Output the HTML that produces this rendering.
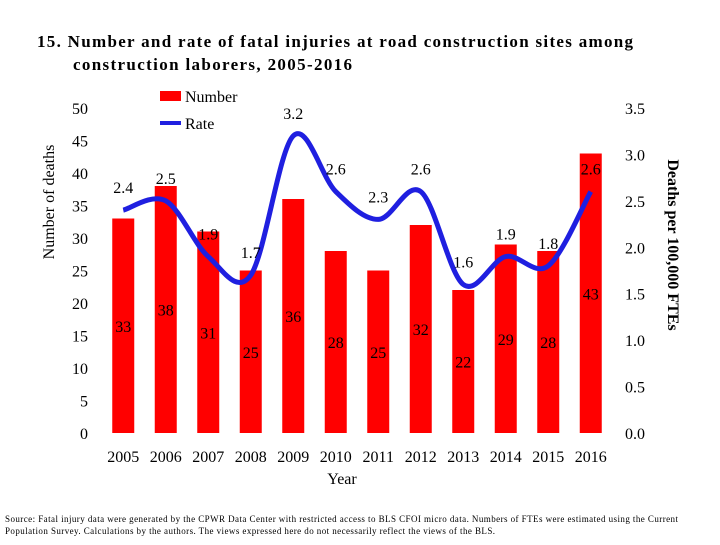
<!DOCTYPE html>
<html><head><meta charset="utf-8"><style>
body{margin:0;background:#fff;}
svg text{font-family:"Liberation Serif",serif;}
</style></head><body>
<svg id="c" width="720" height="540" xmlns="http://www.w3.org/2000/svg">
<text x="37" y="47" font-size="17" font-weight="bold" textLength="596" lengthAdjust="spacing">15. Number and rate of fatal injuries at road construction sites among</text>
<text x="73" y="70" font-size="17" font-weight="bold" textLength="279" lengthAdjust="spacing">construction laborers, 2005-2016</text>
<rect x="160" y="91" width="21" height="10" fill="#ff0000"/>
<text x="185" y="102" font-size="16">Number</text>
<line x1="160" y1="123" x2="181" y2="123" stroke="#1f1fe0" stroke-width="4"/>
<text x="185" y="129" font-size="16">Rate</text>
<text transform="translate(54,202) rotate(-90)" font-size="16" text-anchor="middle">Number of deaths</text>
<text transform="translate(668,245) rotate(90)" font-size="16" text-anchor="middle" font-weight="bold">Deaths per 100,000 FTEs</text>
<text x="342" y="484" font-size="16" text-anchor="middle">Year</text>
<text x="5" y="522" font-size="9" textLength="673" lengthAdjust="spacing">Source: Fatal injury data were generated by the CPWR Data Center with restricted access to BLS CFOI micro data. Numbers of FTEs were estimated using the Current</text>
<text x="5" y="534" font-size="9" textLength="490" lengthAdjust="spacing">Population Survey. Calculations by the authors. The views expressed here do not necessarily reflect the views of the BLS.</text>
<g id="plot"></g>
</svg>
<script>
const years=["2005","2006","2007","2008","2009","2010","2011","2012","2013","2014","2015","2016"];
const numbers=[33,38,31,25,36,28,25,32,22,29,28,43];
const rates=[2.4,2.5,1.9,1.7,3.2,2.6,2.3,2.6,1.6,1.9,1.8,2.6];
const leftTicks=[0,5,10,15,20,25,30,35,40,45,50];
const rightTicks=["0.0","0.5","1.0","1.5","2.0","2.5","3.0","3.5"];
const NS="http://www.w3.org/2000/svg";
const g=document.getElementById('plot');
const x0=102,step=42.5,Y0=433;
const xs=i=>x0+step*(i+0.5);
const yl=v=>Y0-v*6.5;
const yr=v=>Y0-v*(325/3.5);
function mk(t,a,txt){const e=document.createElementNS(NS,t);for(const k in a)e.setAttribute(k,a[k]);if(txt!==undefined)e.textContent=txt;g.appendChild(e);return e;}
leftTicks.forEach(v=>{
 const e=mk('text',{x:88,y:yl(v)+6,'font-size':16,'text-anchor':'end'},v);
 
 
});
rightTicks.forEach(v=>{
 const e=mk('text',{x:625,y:yr(+v)+6,'font-size':16},v);
 
 
});
years.forEach((y,i)=>{
 const e=mk('text',{x:xs(i),y:462,'font-size':16,'text-anchor':'middle'},y);
 
 
});
numbers.forEach((v,i)=>{
 const b=mk('rect',{x:xs(i)-11,y:yl(v),width:22,height:v*6.5,fill:'#ff0000'});
 
 
});
const pts=rates.map((v,i)=>[xs(i),yr(v)]);
let d=`M${pts[0][0]},${pts[0][1]}`;
for(let i=0;i<pts.length-1;i++){
 const p0=pts[Math.max(0,i-1)],p1=pts[i],p2=pts[i+1],p3=pts[Math.min(pts.length-1,i+2)];
 const c1=[p1[0]+(p2[0]-p0[0])/6,p1[1]+(p2[1]-p0[1])/6];
 const c2=[p2[0]-(p3[0]-p1[0])/6,p2[1]-(p3[1]-p1[1])/6];
 d+=` C${c1[0]},${c1[1]} ${c2[0]},${c2[1]} ${p2[0]},${p2[1]}`;
}
const ln=mk('path',{d:d,fill:'none',stroke:'#1f1fe0','stroke-width':5});


numbers.forEach((v,i)=>{
 const e=mk('text',{x:xs(i),y:yl(v/2)+6,'font-size':16,'text-anchor':'middle'},v);
 
 
});
rates.forEach((v,i)=>{
 const e=mk('text',{x:xs(i),y:yr(v)-17,'font-size':16,'text-anchor':'middle'},v.toFixed(1));
 
 
});
</script>
</body></html>
